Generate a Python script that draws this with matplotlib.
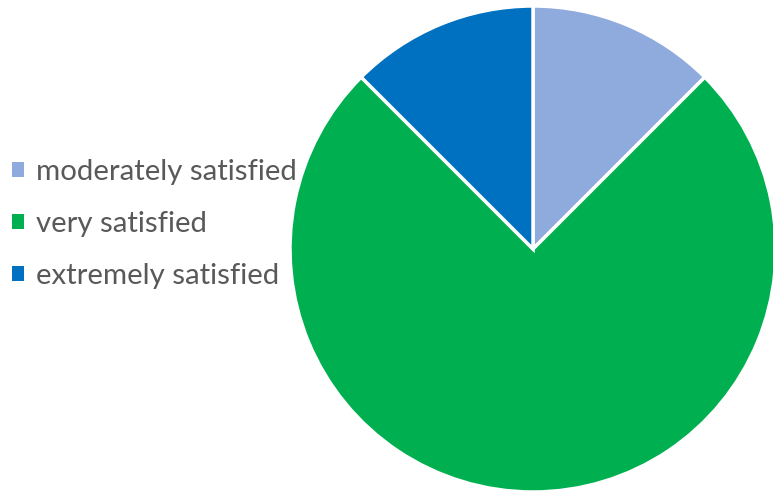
import matplotlib
matplotlib.use("Agg")
import matplotlib.pyplot as plt

labels = ["moderately satisfied", "very satisfied", "extremely satisfied"]
values = [12.5, 75.0, 12.5]
colors = ["#8FAADC", "#00B050", "#0070C0"]

plt.rcParams['font.family'] = ['Lato', 'DejaVu Sans']

fig = plt.figure(figsize=(7.73, 4.92), dpi=100)
ax = fig.add_axes([0, 0, 1, 1])

wedges, _ = ax.pie(values, colors=colors, startangle=90, counterclock=False,
                   center=(533, -249), radius=243, frame=True,
                   wedgeprops=dict(edgecolor='white', linewidth=2.5))
ax.set_xlim(0, 773)
ax.set_ylim(-492, 0)
ax.set_aspect('equal')
ax.axis('off')

leg = ax.legend(wedges, labels, loc='center left', bbox_to_anchor=(12, -224),
                bbox_transform=ax.transData, frameon=False, fontsize=21.2,
                handlelength=0.42, handleheight=0.42, handletextpad=0.4,
                labelspacing=0.88, borderpad=0, borderaxespad=0,
                labelcolor='#595959')
for h in leg.legend_handles:
    h.set_edgecolor('none')

fig.savefig("out.png", dpi=100)
